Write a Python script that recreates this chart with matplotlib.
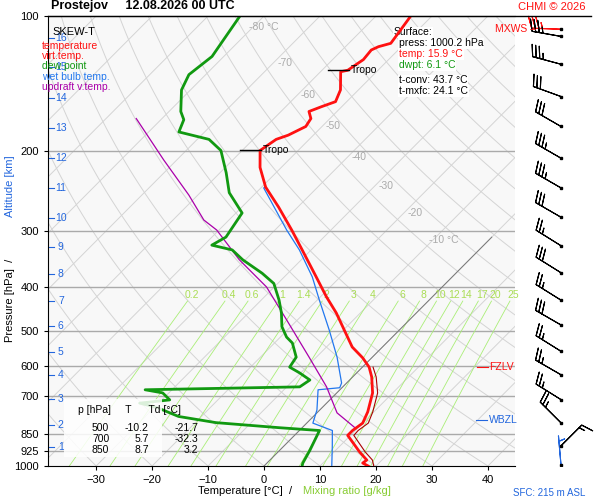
import numpy as np
import matplotlib.pyplot as plt
from matplotlib.ticker import NullLocator

plt.rcParams["font.family"] = ["Liberation Sans", "DejaVu Sans"]

SKEW = 80.0  # deg C per decade of pressure

# temperature profile
t_p = [1000, 985, 970, 931, 855, 834, 803, 758, 688, 634, 603, 575, 544, 457, 421, 380,
       331, 299, 266, 240, 217, 199, 188, 184, 176, 169, 163, 159, 155, 146, 133, 132,
       125, 119, 117, 115, 102, 100]
t_t = [18.6, 17.1, 17.3, 14.6, 9.5, 9.5, 10.0, 8.9, 6.4, 3.4, 1.2, -1.6, -5.4, -14.3,
       -18.9, -24.3, -31.6, -37.0, -43.4, -49.3, -53.8, -56.8, -55.9, -54.5, -52.9, -53.4,
       -55.0, -53.6, -52.0, -53.2, -56.4, -55.4, -54.5, -54.8, -54.1, -52.5, -53.6, -53.8]

# virtual temperature (lower part)
tv_p = [1000, 970, 931, 855, 834, 803, 758, 688, 634, 603]
tv_t = [19.6, 18.3, 15.6, 10.6, 10.5, 11.0, 9.8, 7.3, 4.2, 1.9]

# dew point
td_p = [1000, 985, 923, 834, 822, 801, 776, 741, 725, 713, 688, 677, 667, 644, 621, 603,
        573, 533, 517, 490, 457, 428, 393, 373, 348, 331, 323, 310, 274, 247, 223, 199,
        188, 181, 170, 163, 146, 135, 123, 100]
td_t = [6.8, 6.4, 5.4, 3.6, -4.1, -16.3, -24.1, -29.6, -33.4, -28.6, -31.1, -34.8, -7.7,
        -7.1, -10.2, -13.0, -13.6, -16.8, -18.9, -21.6, -24.1, -26.8, -30.7, -34.6, -40.5,
        -44.1, -48.6, -47.5, -48.9, -54.8, -58.9, -63.8, -67.9, -74.6, -75.9, -77.9, -81.6,
        -83.0, -82.1, -84.3]

# wet bulb temperature (lower part, follows temperature above ~240 hPa)
tw_p = [1000, 907, 834, 803, 751, 677, 670, 654, 573, 499, 428, 380, 331, 299, 241]
tw_t = [12.1, 8.8, 5.9, 1.1, -0.5, -3.9, -0.4, -0.9, -6.3, -12.5, -19.6, -25.0, -32.1,
        -37.9, -49.5]

# updraft virtual temperature
up_p = [826, 762, 667, 573, 473, 400, 348, 299, 284, 250, 209, 169]
up_t = [9.8, 3.6, -2.9, -11.3, -22.0, -31.4, -41.1, -50.4, -54.5, -61.6, -72.3, -84.6]

# winds
w_p = [107, 111, 128, 151, 176, 207, 241, 280, 324, 372, 428, 486, 556, 627, 712, 802, 902, 995]
w_dir = [272, 280, 285, 290, 300, 300, 300, 300, 302, 302, 302, 300, 302, 300, 302, 315, 45, 355]
w_spd = [35, 35, 35, 30, 30, 35, 35, 30, 25, 30, 25, 30, 25, 25, 25, 25, 15, 5]

km_levels = list(range(1, 17))
km_p = [907, 811, 710, 628, 558, 488, 430, 374, 326, 281, 241, 207, 177, 152, 130, 112]

mix_ratios = [0.2, 0.4, 0.6, 1, 1.4, 2, 3, 4, 6, 8, 10, 12, 14, 17, 20, 25]
mix_labels = ["0.2", "0.4", "0.6", "1", "1.4", "2", "3", "4", "6", "8", "10", "12", "14", "17", "20", "25"]

iso_lab_t = [-80, -70, -60, -50, -40, -30, -20, -10]
iso_lab_p = [106, 127, 150, 176, 206, 239, 274, 315]

p_lines = [200, 300, 400, 500, 600, 700, 850, 925]
p_ticks = [100, 200, 300, 400, 500, 600, 700, 850, 925, 1000]


def sk(t, p):
    return np.asarray(t, float) + SKEW * np.log10(1000.0 / np.asarray(p, float))


fig = plt.figure(figsize=(6, 5), dpi=100)
ax = fig.add_axes([0.08, 0.068, 0.778, 0.9])
ax.set_facecolor("#f8f8f8")
ax.set_yscale("log")
ax.set_ylim(1000, 100)
ax.set_xlim(-38.6, 44.8)
ax.yaxis.set_minor_locator(NullLocator())
ax.set_yticks(p_ticks)
ax.set_yticklabels([str(v) for v in p_ticks], fontsize=8)
ax.set_xticks(range(-30, 41, 10))
ax.tick_params(labelsize=8, length=3)
ax.spines["right"].set_visible(False)

pp = np.logspace(3, 2, 60)
# isotherms
for t in range(-140, 60, 10):
    ax.plot(sk(t, pp), pp, color="#d4d4d4", lw=0.7, zorder=1)
# dry adiabats
for th in range(-40, 220, 10):
    tk = (th + 273.15) * (pp / 1000.0) ** 0.286 - 273.15
    ax.plot(sk(tk, pp), pp, color="#d4d4d4", lw=0.7, zorder=1)
# 0 deg isotherm darker
p0 = np.logspace(3, np.log10(310), 20)
ax.plot(sk(0, p0), p0, color="#777777", lw=0.7, zorder=2)
# pressure lines
for p in p_lines:
    ax.axhline(p, color="#aaaaaa", lw=1, zorder=1)
# mixing ratio lines
pm = np.logspace(3, np.log10(430), 30)
for w, lab in zip(mix_ratios, mix_labels):
    e = w * pm / (622 + w)
    a = np.log(e / 6.112)
    tdm = 243.5 * a / (17.67 - a)
    ax.plot(sk(tdm, pm), pm, color="#aaee77", lw=0.6, zorder=1)
    e2 = w * 417 / (622 + w)
    a2 = np.log(e2 / 6.112)
    ax.text(sk(243.5 * a2 / (17.67 - a2), 417), 417, lab, color="#aadd55",
            fontsize=7.5, ha="center", va="center", zorder=3)

for t, p in zip(iso_lab_t, iso_lab_p):
    lab = f"{t} °C" if t in (-80, -10) else str(t)
    ax.text(sk(t, p) + 2, p, lab, color="#aaaaaa", fontsize=7.5, ha="center", va="center")

# wet bulb joins the temperature curve aloft
tw_all_p = tw_p + [p for p in t_p if p < 241]
tw_all_t = tw_t + [t for p, t in zip(t_p, t_t) if p < 241]
ax.plot(sk(tw_all_t, tw_all_p), tw_all_p, color="#2277ee", lw=0.9, zorder=4)
ax.plot(sk(tv_t, tv_p), tv_p, color="#aa0000", lw=0.8, zorder=4)
ax.plot(sk(t_t, t_p), t_p, color="#ff1111", lw=2.0, zorder=5)
ax.plot(sk(td_t, td_p), td_p, color="#119911", lw=2.0, zorder=5)
ax.plot(sk(up_t, up_p), up_p, color="#aa00aa", lw=0.9, zorder=4)

# tropopause marks
for p in [132, 199]:
    tx = sk(np.interp(p, t_p[::-1], t_t[::-1]), p)
    ax.plot([tx - 3.5, tx + 0.2], [p, p], color="black", lw=1, zorder=6)
    ax.text(tx + 0.5, p, "Tropo", fontsize=7.5, va="center", zorder=6)

# altitude labels
for k, p in zip(km_levels, km_p):
    ax.text(-36.3, p, str(k), color="#2266dd", fontsize=7.5, va="center", ha="center")
    ax.plot([-38.6, -37.6], [p, p], color="#2266dd", lw=0.8)

# legend block
leg = [("SKEW-T", "black"), ("temperature", "#ff1111"), ("virt.temp.", "#ff1111"),
       ("dew point", "#119911"), ("wet bulb temp.", "#2277ee"), ("updraft v.temp.", "#aa00aa")]
leg_y = [0.975, 0.945, 0.922, 0.899, 0.876, 0.853]
for (s, c), y in zip(leg, leg_y):
    ax.text(0.01 if c == "black" else -0.013, y, s, color=c,
            fontsize=8 if c == "black" else 7.5, transform=ax.transAxes, va="top")

surf = [("Surface:", "black"), ("press: 1000.2 hPa", "black"), ("temp: 15.9 °C", "#ff1111"),
        ("dwpt: 6.1 °C", "#119911"), ("t-conv: 43.7 °C", "black"), ("t-mxfc: 24.1 °C", "black")]
ys = [0.975, 0.950, 0.926, 0.902, 0.868, 0.844]
for (s, c), y in zip(surf, ys):
    ax.text(0.74 + (0.012 if s.startswith(("p", "t", "d")) else 0), y, s, color=c,
            fontsize=7.5, transform=ax.transAxes, va="top",
            bbox=dict(fc="white", ec="none", pad=0.5))

# table
fig.text(0.13, 0.174, "p [hPa]     T      Td [°C]", fontsize=7.5)
rows = [("500", "-10.2", "-21.7"), ("700", "5.7", "-32.3"), ("850", "8.7", "3.2")]
for i, (a, b, c) in enumerate(rows):
    y = 0.138 - i * 0.022
    fig.text(0.182, y, a, fontsize=7.5, ha="right")
    fig.text(0.248, y, b, fontsize=7.5, ha="right")
    fig.text(0.330, y, c, fontsize=7.5, ha="right")
ax.add_patch(plt.Rectangle((0.035, 0.02), 0.21, 0.13, transform=ax.transAxes,
                           fc="white", ec="none", alpha=0.85, zorder=6))

# level marks
ax.plot([38.0, 40.0], [603, 603], color="#ff1111", lw=0.8)
ax.text(40.3, 603, "FZLV", color="#ff1111", fontsize=7.5, va="center")
ax.plot([37.8, 39.8], [790, 790], color="#2266dd", lw=0.8)
ax.text(40.1, 790, "WBZL", color="#2266dd", fontsize=7.5, va="center")

fig.text(0.33, 0.013, "Temperature [°C]  /  ", fontsize=8)
fig.text(0.505, 0.013, "Mixing ratio [g/kg]", fontsize=8, color="#88cc33")
fig.text(0.008, 0.32, "Pressure [hPa]  /  ", fontsize=8, rotation=90)
fig.text(0.008, 0.57, "Altitude [km]", fontsize=8, rotation=90, color="#2266dd")

fig.text(0.085, 0.975, "Prostejov     12.08.2026 00 UTC", fontsize=9, weight="bold", va="bottom")
fig.text(0.975, 0.975, "CHMI © 2026", fontsize=8, color="#ff1111", ha="right", va="bottom")
fig.add_artist(plt.Line2D([0.08, 0.985], [0.968, 0.968], color="black", lw=1))
fig.text(0.975, 0.008, "SFC: 215 m ASL", fontsize=7, color="#2266dd", ha="right")

# wind barbs
bx = fig.add_axes([0.858, 0.068, 0.14, 0.9])
bx.set_yscale("log")
bx.set_ylim(1000, 100)
bx.set_xlim(0, 1)
bx.axis("off")
d = np.radians(w_dir)
s = np.array(w_spd, float)
u = -s * np.sin(d)
v = -s * np.cos(d)
cols = ["#ff1111"] + ["black"] * (len(w_p) - 2) + ["#2266dd"]
bx.barbs(np.full(len(w_p), 0.55), w_p, u, v, length=6.5, lw=0.8, color=cols, clip_on=False)
bx.plot(np.full(len(w_p), 0.55), w_p, "s", ms=2, color="black")
bx.text(0.25, 107, "MXWS –", color="#ff1111", fontsize=7.5, ha="right", va="center")

fig.savefig("out.png", dpi=100)
